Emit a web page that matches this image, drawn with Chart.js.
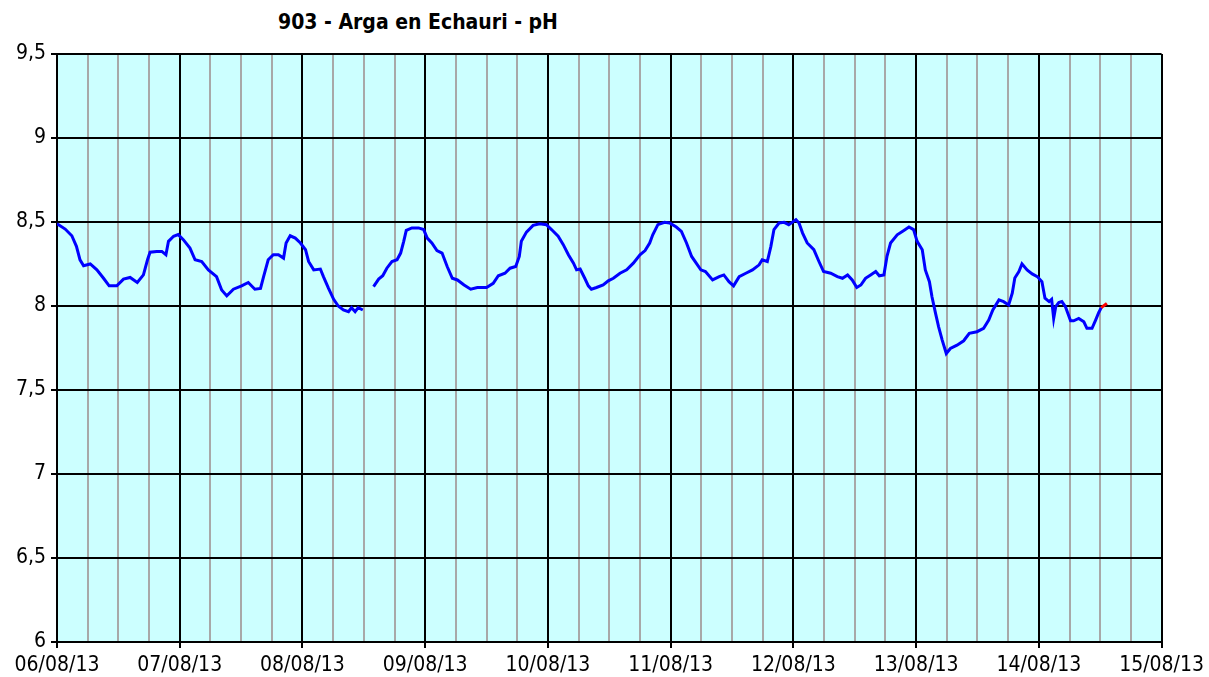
<!DOCTYPE html>
<html>
<head>
<meta charset="utf-8">
<script src="https://cdn.jsdelivr.net/npm/chart.js@4/dist/chart.umd.min.js"></script>
<style>
  html, body { margin: 0; padding: 0; background: #ffffff; }
  #wrap { position: relative; width: 1209px; height: 677px; }
  #title { position: absolute; left: 278px; top: 10px; font-family: "DejaVu Sans Condensed", "DejaVu Sans", sans-serif; font-weight: bold; font-size: 21px; color: #000; white-space: nowrap; }
  canvas { position: absolute; left: 0; top: 0; }
</style>
</head>
<body>
<div id="wrap">
  <div id="title">903 - Arga en Echauri - pH</div>
  <canvas id="c" width="1209" height="677"></canvas>
</div>
<script>
// Tick labels (one per day, x in hours since 06/08/13 00:00)
const dateLabels = ['06/08/13','07/08/13','08/08/13','09/08/13','10/08/13','11/08/13','12/08/13','13/08/13','14/08/13','15/08/13'];
const yTickLabels = ['6','6,5','7','7,5','8','8,5','9','9,5'];

// Measurement times (hours since 06/08/13 00:00)
const hours = [
  0.0,1.6,2.9,3.8,4.5,5.2,6.5,7.8,9.1,10.2,11.7,13.0,14.3,15.7,16.9,17.7,18.2,19.5,20.5,21.3,21.8,22.8,23.7,
  24.7,26.0,27.0,28.3,29.6,31.2,32.2,33.2,34.5,36.1,37.4,38.7,39.8,40.4,41.3,42.3,43.3,44.3,44.8,45.6,46.6,47.6,
  48.6,49.2,50.2,51.5,52.1,53.1,54.1,55.0,56.0,57.0,57.6,58.3,58.9,59.8,60.8,61.9,62.9,63.7,64.5,65.5,66.5,67.2,67.8,68.3,69.4,70.7,71.7,
  72.4,73.3,74.3,75.3,76.3,77.3,78.3,79.6,80.9,82.2,84.0,85.3,86.3,87.6,88.6,89.7,90.4,90.8,91.8,93.1,94.4,95.7,
  96.7,98.0,99.0,100.0,101.0,101.6,102.3,103.2,103.9,104.5,105.5,106.8,107.8,108.8,110.1,111.4,112.7,114.0,115.0,115.9,116.5,117.5,118.8,119.8,
  121.1,122.1,123.1,124.1,125.9,126.8,128.2,129.5,130.4,131.4,132.3,133.4,134.7,136.0,137.3,137.9,138.9,139.6,140.2,141.2,142.2,143.1,
  144.5,145.1,145.8,146.7,148.0,149.0,149.9,151.3,152.6,153.6,154.6,155.5,156.4,157.2,158.1,159.1,160.1,160.8,161.7,162.3,163.0,164.3,165.6,166.6,167.5,
  168.2,169.2,169.8,170.6,171.1,171.8,172.4,173.1,173.9,174.7,176.0,177.3,178.4,179.9,181.2,182.2,183.0,184.2,185.1,186.1,186.8,187.3,188.1,188.7,189.7,190.7,191.7,
  192.6,193.2,194.0,194.5,194.9,195.3,195.9,196.5,197.2,198.2,198.8,199.8,200.8,201.4,202.4,203.1,203.7,204.2,205.3
];

// pH readings (null = missing data)
const ph = [
  8.49,8.458,8.418,8.355,8.275,8.24,8.25,8.215,8.165,8.12,8.12,8.16,8.17,8.14,8.185,8.275,8.32,8.325,8.325,8.305,8.385,8.415,8.425,
  8.395,8.345,8.275,8.265,8.215,8.175,8.095,8.06,8.10,8.12,8.14,8.10,8.105,8.175,8.275,8.305,8.305,8.285,8.375,8.418,8.404,8.375,
  8.335,8.265,8.215,8.22,8.175,8.105,8.04,8.0,7.976,7.966,7.99,7.966,7.99,7.976,null,8.115,8.16,8.18,8.225,8.265,8.275,8.315,8.385,8.45,8.465,8.465,8.455,
  8.404,8.375,8.33,8.315,8.235,8.165,8.155,8.125,8.10,8.11,8.11,8.135,8.18,8.195,8.225,8.235,8.295,8.385,8.44,8.48,8.49,8.484,
  8.455,8.415,8.365,8.305,8.255,8.215,8.22,8.165,8.12,8.10,8.11,8.125,8.15,8.165,8.195,8.215,8.255,8.305,8.33,8.375,8.424,8.484,8.498,8.494,
  8.47,8.444,8.375,8.295,8.215,8.205,8.155,8.175,8.185,8.145,8.12,8.175,8.195,8.215,8.245,8.275,8.265,8.355,8.455,8.494,8.498,8.484,
  8.514,8.494,8.434,8.375,8.335,8.265,8.205,8.195,8.175,8.165,8.185,8.155,8.11,8.125,8.165,8.185,8.205,8.18,8.185,8.295,8.375,8.424,8.45,8.47,8.455,
  8.385,8.335,8.215,8.145,8.055,7.956,7.876,7.797,7.717,7.747,7.767,7.793,7.837,7.847,7.867,7.916,7.976,8.036,8.026,8.006,8.076,8.167,8.205,8.251,8.215,8.191,8.175,
  8.145,8.046,8.026,8.04,7.926,7.996,8.02,8.026,7.996,7.912,7.912,7.926,7.906,7.867,7.867,7.916,7.96,7.99,8.016
];

// Start of the provisional (red) part of the series, in hours
const provisionalFrom = 204.2;

const points = hours.map((h, i) => ({ x: h, y: ph[i] }));

const areaBg = {
  id: 'areaBg',
  beforeDraw(chart) {
    const { ctx, chartArea: a } = chart;
    ctx.save();
    ctx.fillStyle = '#ccffff';
    ctx.fillRect(a.left, a.top, a.right - a.left, a.bottom - a.top);
    ctx.restore();
  }
};

const tickFont = { family: '"DejaVu Sans Condensed", "DejaVu Sans", sans-serif', size: 21 };

new Chart(document.getElementById('c'), {
  type: 'line',
  data: {
    datasets: [{
      data: points,
      borderColor: '#0000ff',
      borderWidth: 3,
      pointRadius: 0,
      tension: 0,
      spanGaps: false,
      segment: {
        borderColor: ctx => (ctx.p0.parsed.x >= provisionalFrom ? '#ff0000' : undefined)
      }
    }]
  },
  options: {
    responsive: false,
    animation: false,
    events: [],
    layout: { padding: { top: 54, right: 46, left: 0, bottom: 0 } },
    plugins: { legend: { display: false }, title: { display: false }, tooltip: { enabled: false } },
    scales: {
      x: {
        type: 'linear',
        min: 0,
        max: 216,
        afterFit: s => { s.height = 35; },
        afterBuildTicks: s => {
          const t = [];
          for (let v = 0; v <= 216; v += 6) t.push({ value: v });
          s.ticks = t;
        },
        ticks: {
          autoSkip: false,
          maxRotation: 0,
          padding: 5,
          color: '#000',
          font: tickFont,
          callback: v => (v % 24 === 0 ? dateLabels[v / 24] : '')
        },
        grid: {
          color: c => (c.tick && c.tick.value % 24 === 0 ? '#000000' : '#a8a8a8'),
          lineWidth: 2,
          tickLength: 6,
          tickColor: c => (c.tick && c.tick.value % 24 === 0 ? '#000000' : 'rgba(0,0,0,0)')
        },
        border: { color: '#000', width: 2 }
      },
      y: {
        min: 6,
        max: 9.5,
        afterFit: s => { s.width = 57; },
        ticks: {
          stepSize: 0.5,
          padding: 5,
          color: '#000',
          font: tickFont,
          callback: v => yTickLabels[Math.round((v - 6) * 2)]
        },
        grid: { color: '#000000', lineWidth: 2, tickLength: 6, tickColor: '#000' },
        border: { color: '#000', width: 2 }
      }
    }
  },
  plugins: [areaBg]
});
</script>
</body>
</html>
